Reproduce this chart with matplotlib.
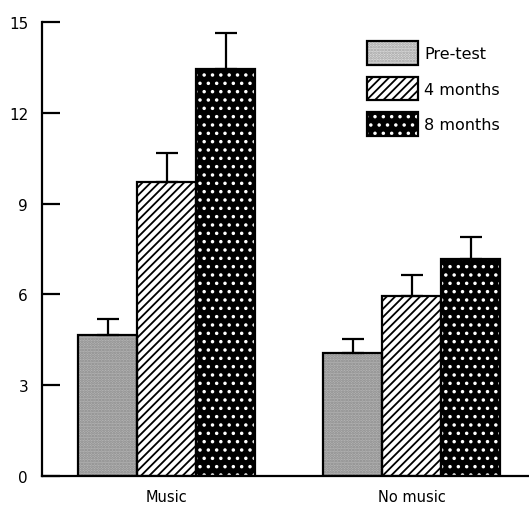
import matplotlib
matplotlib.use("Agg")
from matplotlib import pyplot as plt
import numpy as np

groups = ["Music", "No music"]
series = ["Pre-test", "4 months", "8 months"]
means = {
    "Pre-test": [4.66, 4.06],
    "4 months": [9.71, 5.95],
    "8 months": [13.45, 7.17],
}
errors = {
    "Pre-test": [0.53, 0.47],
    "4 months": [0.96, 0.69],
    "8 months": [1.19, 0.73],
}
yticks = [0, 3, 6, 9, 12, 15]

# face colour, hatch, hatch colour
styles = {
    "Pre-test": ("#b4b4b4", "......", "#8a8a8a"),
    "4 months": ("white", "////", "black"),
    "8 months": ("black", "..", "white"),
}

plt.rcParams["font.family"] = "DejaVu Sans"
plt.rcParams["hatch.linewidth"] = 1.3

fig = plt.figure(figsize=(5.29, 5.06), dpi=100)
ax = fig.add_axes([0.0794, 0.0573, 0.9206, 0.8972])

x = np.arange(len(groups))
w = 0.241
handles = []
for i, s in enumerate(series):
    pos = x + (i - 1) * w
    face, hatch, hcol = styles[s]
    ax.bar(pos, means[s], w, color=face, hatch=hatch, edgecolor=hcol, linewidth=0, zorder=2)
    ax.bar(pos, means[s], w, fill=False, edgecolor="black", linewidth=1.6, zorder=3)
    ax.errorbar(pos, means[s], yerr=[np.zeros(len(groups)), errors[s]], fmt="none",
                ecolor="black", elinewidth=1.6, capsize=8, capthick=1.6, zorder=4)
    handles.append(plt.Rectangle((0, 0), 1, 1, facecolor=face, hatch=hatch,
                                 edgecolor=hcol, linewidth=0))


def outline():
    return plt.Rectangle((0, 0), 1, 1, fill=False, edgecolor="black", linewidth=1.6)


leg_h = [
    (plt.Rectangle((0, 0), 1, 1, facecolor="#dadada", hatch="......", edgecolor="#a0a0a0", linewidth=0),
     outline()),
    (handles[1], outline()),
    (handles[2], outline()),
]
ax.legend(leg_h, series, loc="upper left", bbox_to_anchor=(0.667, 0.958), frameon=False,
          fontsize=11.5, handlelength=3.2, handleheight=1.9, labelspacing=0.75,
          handletextpad=0.4, borderaxespad=0, borderpad=0)

ax.set_xlim(-0.51, 1.478)
ax.set_ylim(0, 15)
ax.set_yticks(yticks)
ax.set_yticklabels([str(t) for t in yticks], fontsize=11)
ax.set_xticks(x)
ax.set_xticklabels(groups, fontsize=10.5)
ax.tick_params(axis="y", direction="in", length=13, width=1.6, pad=10)
ax.tick_params(axis="x", length=0, pad=9)
for side in ["top", "right"]:
    ax.spines[side].set_visible(False)
ax.spines["left"].set_linewidth(1.6)
ax.spines["bottom"].set_linewidth(1.6)

fig.savefig("out.png", dpi=100)
